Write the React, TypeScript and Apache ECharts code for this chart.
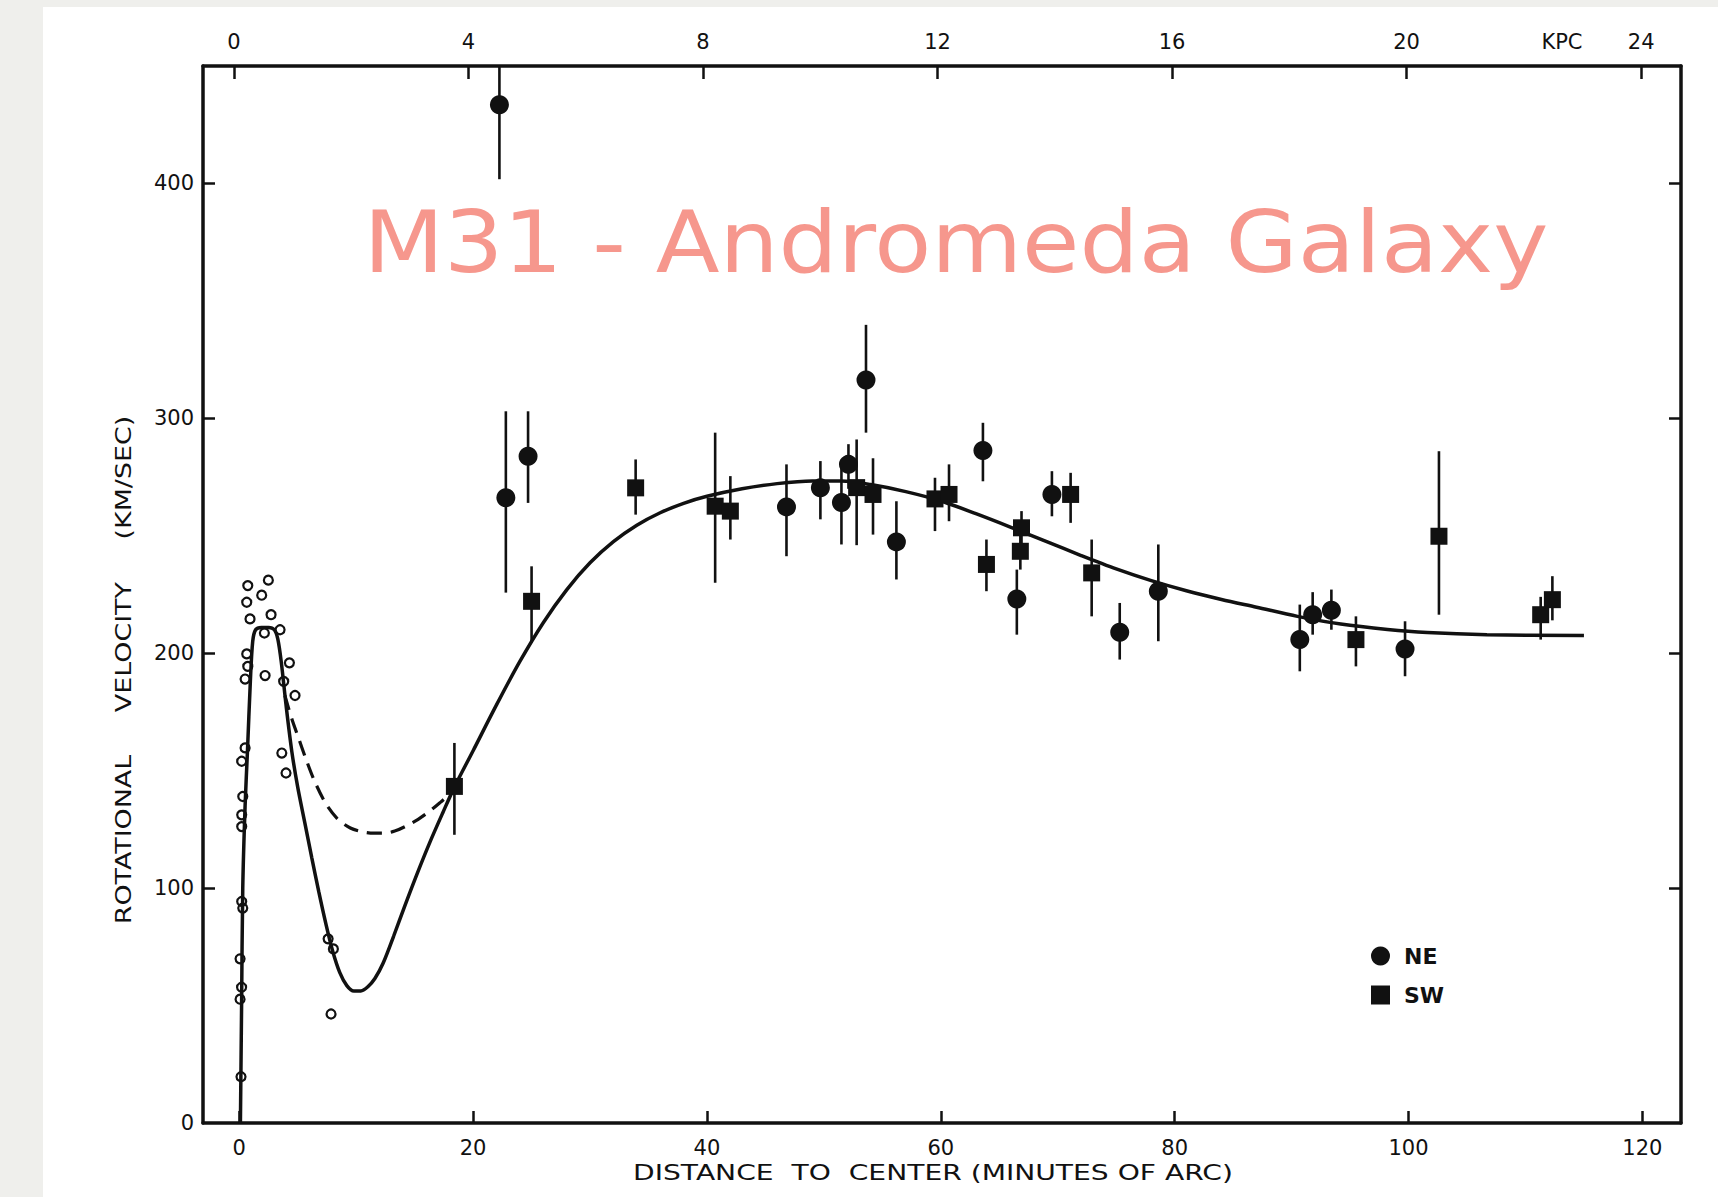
import React, { useEffect, useRef } from 'react';
import * as echarts from 'echarts';

// ---- tick labels ----
const X_TICKS = [0, 20, 40, 60, 80, 100, 120];
const KPC_TICKS = [0, 4, 8, 12, 16, 20, 24];
const KPC_UNIT_AT = 22.65;
const Y_TICKS = [0, 100, 200, 300, 400];
const Y_TICK_MARKS = [100, 200, 300, 400];

// ---- NE measurements: [distance (arcmin), velocity, low, high] ----
const NE = [
  [22.25, 433.5, 401.8, 465],
  [22.8, 266.2, 225.8, 303],
  [24.7, 283.9, 264, 303],
  [46.8, 262.3, 241.3, 280.4],
  [49.7, 270.4, 257, 281.8],
  [51.5, 264.2, 246.3, 282],
  [52.1, 280.4, 270, 289],
  [53.6, 316.3, 293.9, 339.8],
  [56.2, 247.4, 231.4, 264.7],
  [63.6, 286.3, 273.2, 298.1],
  [66.5, 223.1, 207.9, 235.6],
  [69.5, 267.6, 258.3, 277.5],
  [75.3, 208.9, 197.3, 221.4],
  [78.6, 226.4, 205.1, 246.3],
  [90.7, 205.8, 192.3, 220.7],
  [91.8, 216.4, 207.9, 226],
  [93.4, 218.3, 210, 227.1],
  [99.7, 201.8, 190.2, 213.6],
];

// ---- SW measurements: [distance (arcmin), velocity, low, high] ----
const SW = [
  [18.4, 143.3, 122.7, 161.8],
  [25.0, 222.1, 204.5, 237],
  [33.9, 270.4, 259, 282.5],
  [40.7, 262.6, 230, 293.9],
  [42.0, 260.5, 248.4, 275.4],
  [52.8, 270.5, 246, 291],
  [54.2, 267.6, 250.5, 283],
  [59.5, 265.7, 252, 274.7],
  [60.7, 267.6, 256.2, 280.4],
  [63.9, 237.8, 226.4, 248.4],
  [66.8, 243.4, 235.6, 252],
  [66.9, 253.4, 245, 260.5],
  [71.1, 267.6, 255.5, 276.8],
  [72.9, 234.2, 215.7, 248.4],
  [95.5, 205.8, 194.4, 215.7],
  [102.6, 249.8, 216.4, 286],
  [111.3, 216.4, 205.8, 224],
  [112.3, 222.8, 214, 232.8],
];

// ---- inner (optical) points, open circles: [distance, velocity] ----
const INNER = [
  [0.73, 228.8], [2.49, 231.1], [1.92, 224.7], [0.64, 221.7], [0.92, 214.6],
  [2.72, 216.4], [2.15, 208.6], [3.49, 210], [0.64, 199.7], [0.73, 194.4],
  [0.5, 189], [2.21, 190.5], [4.29, 195.9], [4.77, 182], [3.8, 188],
  [0.5, 159.7], [0.21, 154], [3.64, 157.5], [4.0, 149], [0.3, 139],
  [0.21, 131.2], [0.21, 126.2], [0.21, 94.3], [0.3, 91.5], [0.07, 69.9],
  [0.2, 57.8], [0.07, 52.7], [7.6, 78.4], [8.05, 74.1], [7.85, 46.4],
  [0.15, 19.7],
];

// ---- model rotation curve (solid) ----
const CURVE_SOLID = [
  [0.1, 0], [0.2, 50], [0.3, 100], [0.5, 135], [0.7, 158],
  [0.95, 188], [1.15, 205], [1.4, 210], [1.9, 211], [2.5, 211],
  [3.0, 210], [3.3, 206], [3.6, 196], [4.0, 178], [4.5, 158],
  [5.0, 143], [5.6, 128], [6.2, 113], [6.8, 98.5], [7.4, 85],
  [8.0, 73], [8.6, 64], [9.2, 58.5], [9.8, 56.2], [10.4, 56.2],
  [11.0, 58], [11.6, 61.5], [12.3, 68], [13.2, 79.5], [14.2, 93],
  [15.2, 106], [16.3, 119.5], [17.4, 132], [18.4, 143], [20.0, 158.5],
  [22.0, 178], [24.0, 196.5], [26.0, 213], [28.0, 227], [30.0, 238.5],
  [32.0, 247.5], [34.0, 254.5], [36.0, 259.8], [38.0, 263.8], [40.0, 266.8],
  [43.0, 270], [46.0, 272.2], [49.0, 273.3], [51.5, 273.3], [54.0, 271.8],
  [57.0, 268.8], [60.0, 264.8], [63.0, 259.4], [66.0, 253.6], [69.0, 247.6],
  [72.0, 241.6], [75.0, 235.9], [78.0, 230.9], [81.0, 226.6], [84.0, 222.9],
  [87.0, 219.6], [90.5, 215.7], [94.2, 212.4], [98.2, 210.1], [101.6, 208.8],
  [106.7, 207.9], [115.0, 207.5],
];

// ---- alternative inner curve (dashed) ----
const CURVE_DASHED = [
  [3.9, 182], [4.5, 172], [5.1, 163.5], [5.7, 155], [6.4, 146], [7.4, 136],
  [8.4, 129.5], [9.5, 125.6], [10.5, 124], [11.5, 123.4], [12.4, 123.4],
  [13.3, 124.3], [14.3, 126.5], [15.3, 129.3], [16.3, 132.8], [17.2, 136.5],
  [18.0, 140],
];

const FONT = 'DejaVu Sans';
const INK = '#111111';

export default function App() {
  const ref = useRef<HTMLDivElement>(null);

  useEffect(() => {
    if (!ref.current) return;
    const chart = echarts.init(ref.current, null, { renderer: 'svg' });

    const errorBars = (rows: number[][]) => rows.map((r) => [r[0], r[2], r[3]]);

    const errorSeries = (name: string, rows: number[][]) => ({
      type: 'custom',
      name,
      xAxisIndex: 0,
      yAxisIndex: 0,
      z: 3,
      silent: true,
      encode: { x: 0, y: [1, 2] },
      data: errorBars(rows),
      renderItem: (params: any, api: any) => {
        const x = api.value(0);
        const p1 = api.coord([x, api.value(1)]);
        const p2 = api.coord([x, api.value(2)]);
        const cs = params.coordSys;
        const top = cs.y;
        const bottom = cs.y + cs.height;
        return {
          type: 'line',
          shape: {
            x1: p1[0],
            y1: Math.min(p1[1], bottom),
            x2: p2[0],
            y2: Math.max(p2[1], top),
          },
          style: { stroke: INK, lineWidth: 2.6 },
        };
      },
    });

    const axisLine = { show: true, onZero: false, lineStyle: { color: INK, width: 3.5 } };
    const tickStyle = { color: INK, width: 2.5 };
    const labelStyle = { fontSize: 21, fontFamily: FONT, color: INK };

    chart.setOption({
      animation: false,
      backgroundColor: 'transparent',
      grid: { left: 203, top: 66, width: 1478, height: 1057, show: false },
      xAxis: [
        {
          type: 'value',
          position: 'bottom',
          min: -3.1,
          max: 123.3,
          axisLine,
          splitLine: { show: false },
          axisTick: { show: true, inside: true, length: 12, lineStyle: tickStyle, customValues: X_TICKS },
          axisLabel: { ...labelStyle, margin: 14, customValues: X_TICKS },
        },
        {
          type: 'value',
          position: 'top',
          min: -0.527,
          max: 24.68,
          axisLine,
          splitLine: { show: false },
          axisTick: { show: true, inside: true, length: 13, lineStyle: tickStyle, customValues: KPC_TICKS },
          axisLabel: {
            ...labelStyle,
            margin: 14,
            customValues: [...KPC_TICKS, KPC_UNIT_AT],
            formatter: (v: number) => (Math.abs(v - KPC_UNIT_AT) < 0.01 ? 'KPC' : String(v)),
          },
        },
      ],
      yAxis: [
        {
          type: 'value',
          position: 'left',
          min: 0,
          max: 450,
          axisLine,
          splitLine: { show: false },
          axisTick: { show: true, inside: true, length: 12, lineStyle: tickStyle, customValues: Y_TICK_MARKS },
          axisLabel: { ...labelStyle, margin: 9, customValues: Y_TICKS },
        },
        {
          type: 'value',
          position: 'right',
          min: 0,
          max: 450,
          axisLine,
          splitLine: { show: false },
          axisTick: { show: true, inside: true, length: 12, lineStyle: tickStyle, customValues: Y_TICK_MARKS },
          axisLabel: { show: false },
        },
      ],
      legend: {
        data: ['NE', 'SW'],
        orient: 'vertical',
        left: 1366,
        top: 940,
        itemWidth: 19,
        itemHeight: 19,
        itemGap: 17,
        selectedMode: false,
        textStyle: { fontSize: 22, fontWeight: 'bold', fontFamily: FONT, color: INK, padding: [0, 0, 0, 9] },
      },
      graphic: [
        {
          type: 'text',
          x: 956,
          y: 242,
          scaleX: 1.085,
          silent: true,
          style: {
            text: 'M31 - Andromeda Galaxy',
            fontSize: 86,
            fontFamily: FONT,
            fill: '#f6978d',
            align: 'center',
            verticalAlign: 'middle',
          },
        },
        {
          type: 'text',
          x: 933,
          y: 1173,
          scaleX: 1.28,
          silent: true,
          style: {
            text: 'DISTANCE  TO  CENTER (MINUTES OF ARC)',
            fontSize: 22,
            fontFamily: FONT,
            fill: INK,
            align: 'center',
            verticalAlign: 'middle',
          },
        },
        {
          type: 'text',
          x: 124,
          y: 670,
          rotation: Math.PI / 2,
          scaleX: 1.28,
          silent: true,
          style: {
            text: 'ROTATIONAL     VELOCITY     (KM/SEC)',
            fontSize: 21,
            fontFamily: FONT,
            fill: INK,
            align: 'center',
            verticalAlign: 'middle',
          },
        },
      ],
      series: [
        {
          type: 'line',
          name: 'model',
          data: CURVE_SOLID,
          showSymbol: false,
          smooth: 0.3,
          z: 2,
          lineStyle: { color: INK, width: 3.5 },
          silent: true,
        },
        {
          type: 'line',
          name: 'model (alt)',
          data: CURVE_DASHED,
          showSymbol: false,
          smooth: 0.3,
          z: 2,
          lineStyle: { color: INK, width: 3.2, type: [15, 9] },
          silent: true,
        },
        {
          type: 'scatter',
          name: 'inner',
          data: INNER,
          symbol: 'circle',
          symbolSize: 9,
          z: 4,
          itemStyle: { color: 'transparent', borderColor: INK, borderWidth: 2.2, opacity: 1 },
          silent: true,
        },
        errorSeries('NE bars', NE),
        errorSeries('SW bars', SW),
        {
          type: 'scatter',
          name: 'NE',
          data: NE.map((r) => [r[0], r[1]]),
          symbol: 'circle',
          symbolSize: 19,
          z: 5,
          itemStyle: { color: INK, opacity: 1 },
        },
        {
          type: 'scatter',
          name: 'SW',
          data: SW.map((r) => [r[0], r[1]]),
          symbol: 'rect',
          symbolSize: 17,
          z: 5,
          itemStyle: { color: INK, opacity: 1 },
        },
      ],
    });

    return () => chart.dispose();
  }, []);

  return (
    <div style={{ position: 'absolute', left: 0, top: 0, width: 1718, height: 1197, background: '#efefec', overflow: 'hidden' }}>
      <div style={{ position: 'absolute', left: 43, top: 7, right: 0, bottom: 0, background: '#ffffff' }} />
      <div ref={ref} style={{ position: 'absolute', left: 0, top: 0, width: 1718, height: 1197 }} />
    </div>
  );
}
